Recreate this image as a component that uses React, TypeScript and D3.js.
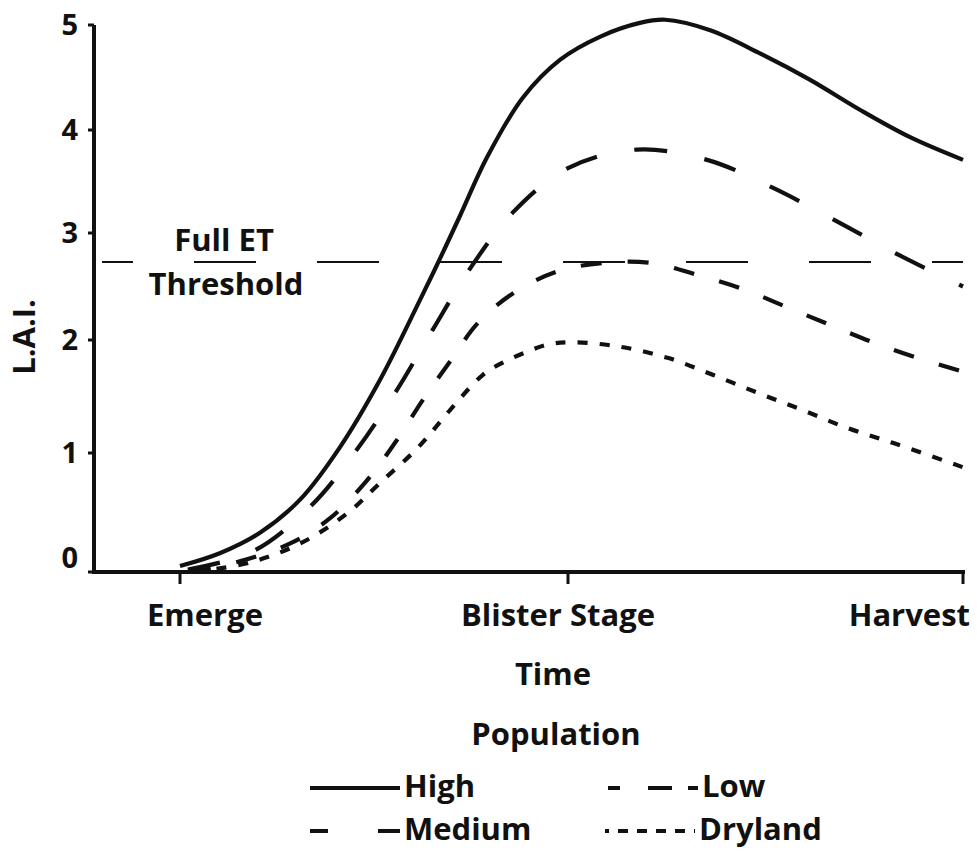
import { useRef, useEffect } from "react";
import * as d3 from "d3";

// time axis: Emerge = 0, Blister Stage = 50, Harvest = 100
const stageNames = ["Emerge", "Blister Stage", "Harvest"];
const stageTimes = [0, 50, 100];
const laiTicks = [0, 1, 2, 3, 4, 5];
const fullEtThreshold = 2.73;

const highTime = [0, 5.2, 10.3, 15.5, 20.6, 25.8, 30.9, 33.5, 36.1, 39.6, 44.2, 49, 54.1, 59.1, 62.3, 68, 74.3, 80.6, 87, 93.3, 100];
const highLai = [0.05, 0.16, 0.33, 0.61, 1.05, 1.65, 2.37, 2.76, 3.17, 3.74, 4.31, 4.67, 4.89, 5.02, 5.05, 4.95, 4.73, 4.48, 4.19, 3.93, 3.71];

const mediumTime = [1, 9.3, 16.8, 22.8, 27.8, 32.6, 37.4, 42.9, 50, 58.7, 67.6, 75.9, 84.1, 92, 100];
const mediumLai = [0.02, 0.17, 0.55, 1.03, 1.54, 2.1, 2.67, 3.2, 3.63, 3.81, 3.71, 3.44, 3.11, 2.79, 2.5];

const lowTime = [1.3, 7.7, 14.2, 19.3, 24.1, 27.8, 31.3, 34.8, 38.4, 43, 48.6, 54.4, 60.5, 66.3, 72, 77.6, 83.2, 88.6, 94.3, 100];
const lowLai = [0, 0.09, 0.24, 0.45, 0.77, 1.1, 1.47, 1.81, 2.16, 2.44, 2.64, 2.72, 2.72, 2.61, 2.48, 2.31, 2.14, 1.98, 1.84, 1.72];

const drylandTime = [1.9, 9, 15.5, 21.5, 25.8, 30.7, 34.8, 39, 41.6, 44.5, 47.4, 50.5, 56.6, 62.7, 68.4, 74.1, 79.7, 85.4, 91.1, 100];
const drylandLai = [0, 0.08, 0.24, 0.49, 0.75, 1.05, 1.38, 1.69, 1.8, 1.89, 1.96, 1.98, 1.94, 1.84, 1.69, 1.53, 1.38, 1.22, 1.09, 0.88];

const seriesNames = ["High", "Medium", "Low", "Dryland"];

const FONT = "'Open Sans', 'Noto Sans', sans-serif";
const INK = "#111";

export default function App() {
  const svgRef = useRef<SVGSVGElement>(null);

  useEffect(() => {
    if (!svgRef.current) return;
    const svg = d3.select(svgRef.current);
    svg.selectAll("*").remove();

    const width = 977;
    const height = 852;
    svg.attr("width", width).attr("height", height);

    // the original axis is drawn with slightly uneven spacing
    const x = d3.scaleLinear().domain(stageTimes).range([180, 568, 963]);
    const y = d3.scaleLinear().domain(laiTicks).range([572, 453, 340, 233, 130, 25]);

    const series = [
      { name: seriesNames[0], t: highTime, v: highLai, dash: null, legendDash: null },
      { name: seriesNames[1], t: mediumTime, v: mediumLai, dash: "33 38", legendDash: "18 50 22 10" },
      { name: seriesNames[2], t: lowTime, v: lowLai, dash: "21 26", legendDash: "12 28 24 16 12 10" },
      { name: seriesNames[3], t: drylandTime, v: drylandLai, dash: "10 12", legendDash: "4 9 10 9 10 9 10 9 10 9 4 10" },
    ];

    const line = d3
      .line<[number, number]>()
      .x((d) => x(d[0]))
      .y((d) => y(d[1]))
      .curve(d3.curveCatmullRom.alpha(0.5));

    // threshold line
    svg.append("line")
      .attr("x1", 102)
      .attr("x2", x(100))
      .attr("y1", y(fullEtThreshold))
      .attr("y2", y(fullEtThreshold))
      .attr("stroke", INK)
      .attr("stroke-width", 2)
      .attr("stroke-dasharray", "62 61")
      .attr("stroke-dashoffset", 31);

    // curves
    series.forEach((s) => {
      const pts = s.t.map((t, i) => [t, s.v[i]] as [number, number]);
      svg.append("path")
        .attr("d", line(pts) || "")
        .attr("fill", "none")
        .attr("stroke", INK)
        .attr("stroke-width", 4.2)
        .attr("stroke-dasharray", s.dash)
        .attr("stroke-linejoin", "round");
    });

    const bold = (sel: any, size = 31) =>
      sel.attr("font-family", FONT).attr("font-weight", 700).attr("font-size", size).attr("fill", INK);

    // y axis
    const yAxis = svg.append("g").attr("transform", "translate(94,0)");
    yAxis.append("line")
      .attr("x1", 0).attr("x2", 0)
      .attr("y1", y(5)).attr("y2", y(0) + 2)
      .attr("stroke", INK).attr("stroke-width", 4);
    yAxis.selectAll(".tick")
      .data(laiTicks)
      .enter()
      .append("line")
      .attr("x1", -6).attr("x2", 0)
      .attr("y1", (d) => y(d)).attr("y2", (d) => y(d))
      .attr("stroke", INK).attr("stroke-width", 3);
    bold(
      yAxis.selectAll(".lbl")
        .data(laiTicks)
        .enter()
        .append("text")
        .attr("x", -16)
        .attr("y", (d) => Math.min(y(d), y(0) - 14))
        .attr("dy", "0.36em")
        .attr("text-anchor", "end")
        .text((d) => d),
      29
    );

    // x axis
    const xAxis = svg.append("g");
    xAxis.append("line")
      .attr("x1", 92).attr("x2", x(100) + 2)
      .attr("y1", y(0)).attr("y2", y(0))
      .attr("stroke", INK).attr("stroke-width", 4);
    xAxis.selectAll(".tick")
      .data(stageTimes)
      .enter()
      .append("line")
      .attr("x1", (d) => x(d)).attr("x2", (d) => x(d))
      .attr("y1", y(0)).attr("y2", y(0) + 12)
      .attr("stroke", INK).attr("stroke-width", 3);

    const labelShift = [-33, -10, 7];
    const labelAnchor = ["start", "middle", "end"];
    bold(
      xAxis.selectAll(".lbl")
        .data(stageTimes)
        .enter()
        .append("text")
        .attr("x", (d, i) => x(d) + labelShift[i])
        .attr("y", 626)
        .attr("text-anchor", (d, i) => labelAnchor[i])
        .text((d, i) => stageNames[i])
    );

    bold(svg.append("text").attr("x", 553).attr("y", 685).attr("text-anchor", "middle").text("Time"));
    bold(
      svg.append("text")
        .attr("transform", "translate(35,337) rotate(-90)")
        .attr("text-anchor", "middle")
        .text("L.A.I.")
    );
    bold(svg.append("text").attr("x", 224).attr("y", 251).attr("text-anchor", "middle").text("Full ET"));
    bold(svg.append("text").attr("x", 226).attr("y", 295).attr("text-anchor", "middle").text("Threshold"));

    // legend
    bold(svg.append("text").attr("x", 556).attr("y", 745).attr("text-anchor", "middle").text("Population"));
    const legendPos = [
      { x: 310, y: 797 },
      { x: 310, y: 840 },
      { x: 608, y: 797 },
      { x: 605, y: 840 },
    ];
    series.forEach((s, i) => {
      const p = legendPos[i];
      svg.append("line")
        .attr("x1", p.x).attr("x2", p.x + 90)
        .attr("y1", p.y - 9).attr("y2", p.y - 9)
        .attr("stroke", INK)
        .attr("stroke-width", 4.2)
        .attr("stroke-dasharray", s.legendDash);
      bold(svg.append("text").attr("x", p.x + 94).attr("y", p.y).text(s.name));
    });
  }, []);

  return (
    <svg
      ref={svgRef}
      style={{ position: "absolute", left: 0, top: 0, background: "#fff" }}
    />
  );
}
